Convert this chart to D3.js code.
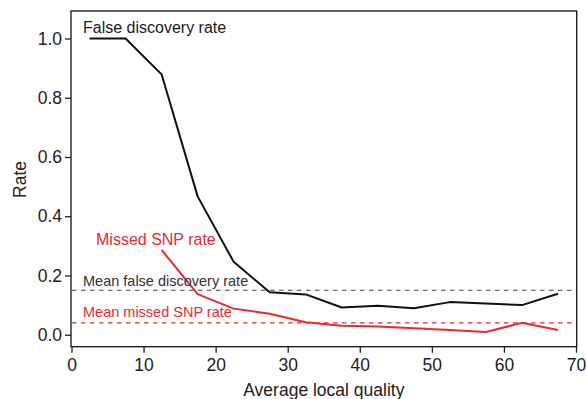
<!DOCTYPE html>
<html>
<head>
<meta charset="utf-8">
<script src="https://cdn.jsdelivr.net/npm/d3@7"></script>
<style>
  html, body { margin: 0; padding: 0; background: #fff; }
  svg { display: block; font-family: "Liberation Sans", Arial, Helvetica, sans-serif; }
</style>
</head>
<body>
<div id="chart"></div>
<script>
// Data
const qualityBins = [2.5, 7.5, 12.5, 17.5, 22.5, 27.5, 32.5, 37.5, 42.5, 47.5, 52.5, 57.5, 62.5, 67.5];
const falseDiscovery = [1.0, 1.0, 0.879, 0.467, 0.246, 0.143, 0.136, 0.092, 0.098, 0.089, 0.110, 0.105, 0.100, 0.138];
const missedBins = [12.5, 17.5, 22.5, 27.5, 32.5, 37.5, 42.5, 47.5, 52.5, 57.5, 62.5, 67.5];
const missedSnp = [0.286, 0.137, 0.088, 0.071, 0.042, 0.030, 0.028, 0.022, 0.016, 0.009, 0.040, 0.016];
const meanFalseDiscovery = 0.150;
const meanMissed = 0.040;
const xTicks = [0, 10, 20, 30, 40, 50, 60, 70];
const yTicks = [0.0, 0.2, 0.4, 0.6, 0.8, 1.0];

const W = 586, H = 399;
const box = { left: 71, top: 11, right: 576.7, bottom: 346.7 };
const black = "#111", red = "#ec2a2e";

const svg = d3.select("#chart").append("svg")
    .attr("width", W)
    .attr("height", H);

const x = d3.scaleLinear().domain([0, 70]).range([71.5, 576]);
const y = d3.scaleLinear().domain([0, 1]).range([334.7, 38.5]);

// Axes
const xAxis = svg.append("g")
    .attr("transform", `translate(0,${box.bottom})`)
    .call(d3.axisBottom(x).tickValues(xTicks).tickSize(6).tickPadding(6).tickFormat(d3.format("d")));
xAxis.select(".domain").remove();

const yAxis = svg.append("g")
    .attr("transform", `translate(${box.left},0)`)
    .call(d3.axisLeft(y).tickValues(yTicks).tickSize(6).tickPadding(3).tickFormat(d3.format(".1f")));
yAxis.select(".domain").remove();

svg.selectAll(".tick line").attr("stroke", "#222").attr("stroke-width", 1.3);
svg.selectAll(".tick text")
    .attr("fill", "#222")
    .style("font-size", "17.5px")
    .style("font-family", "'Liberation Sans', Arial, sans-serif");

// Frame
svg.append("rect")
    .attr("x", box.left)
    .attr("y", box.top)
    .attr("width", box.right - box.left)
    .attr("height", box.bottom - box.top)
    .attr("fill", "none")
    .attr("stroke", "#222")
    .attr("stroke-width", 1.4);

// Mean lines
svg.append("line")
    .attr("x1", box.left + 1).attr("x2", box.right - 1)
    .attr("y1", y(meanFalseDiscovery)).attr("y2", y(meanFalseDiscovery))
    .attr("stroke", "#444")
    .attr("stroke-width", 1.2)
    .attr("stroke-dasharray", "4.5,4.5");

svg.append("line")
    .attr("x1", box.left + 1).attr("x2", box.right - 1)
    .attr("y1", y(meanMissed)).attr("y2", y(meanMissed))
    .attr("stroke", red)
    .attr("stroke-width", 1.2)
    .attr("stroke-dasharray", "4.5,4.5");

// Series lines
const line = d3.line()
    .x(d => x(d[0]))
    .y(d => y(d[1]));

svg.append("path")
    .datum(qualityBins.map((q, i) => [q, falseDiscovery[i]]))
    .attr("fill", "none")
    .attr("stroke", black)
    .attr("stroke-width", 2)
    .attr("stroke-linejoin", "round")
    .attr("d", line);

svg.append("path")
    .datum(missedBins.map((q, i) => [q, missedSnp[i]]))
    .attr("fill", "none")
    .attr("stroke", red)
    .attr("stroke-width", 2)
    .attr("stroke-linejoin", "round")
    .attr("d", line);

// Annotations
const notes = [
    { text: "False discovery rate", x: 83, y: 33.3, color: "#1a1a1a", size: 16 },
    { text: "Missed SNP rate", x: 96, y: 245, color: red, size: 16 },
    { text: "Mean false discovery rate", x: 83, y: 286, color: "#333", size: 14.5 },
    { text: "Mean missed SNP rate", x: 83, y: 316.7, color: red, size: 14.5 }
];
svg.selectAll(".note")
    .data(notes)
    .enter()
    .append("text")
    .attr("class", "note")
    .attr("x", d => d.x)
    .attr("y", d => d.y)
    .attr("fill", d => d.color)
    .style("font-size", d => d.size + "px")
    .text(d => d.text);

// Axis titles
svg.append("text")
    .attr("x", (box.left + box.right) / 2)
    .attr("y", 396)
    .attr("text-anchor", "middle")
    .attr("fill", "#222")
    .style("font-size", "17.5px")
    .text("Average local quality");

svg.append("text")
    .attr("transform", `translate(26,179.5) rotate(-90)`)
    .attr("text-anchor", "middle")
    .attr("fill", "#222")
    .style("font-size", "17.5px")
    .text("Rate");
</script>
</body>
</html>
